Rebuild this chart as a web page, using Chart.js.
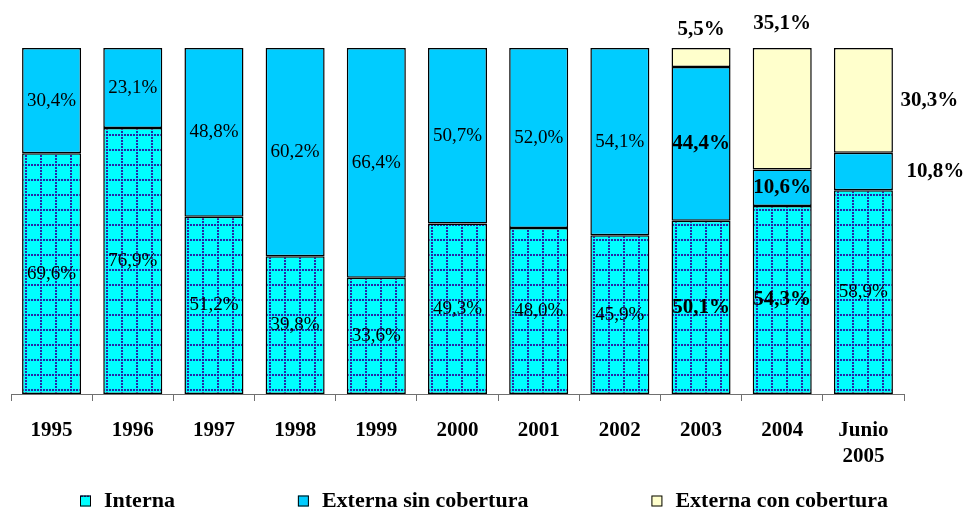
<!DOCTYPE html>
<html>
<head>
<meta charset="utf-8">
<title>Composición de la deuda</title>
<script src="https://cdn.jsdelivr.net/npm/chart.js@4/dist/chart.umd.min.js"></script>
<style>
  html, body { margin: 0; padding: 0; background: #ffffff; }
  #wrap { width: 966px; height: 511px; position: relative; }
</style>
</head>
<body>
<div id="wrap"><canvas id="c" width="966" height="511"></canvas></div>
<script>
// Categories (years) and the three shares of each bar, in percent
const years = ['1995', '1996', '1997', '1998', '1999', '2000', '2001', '2002', '2003', '2004', ['Junio', '2005']];
const interna = [69.6, 76.9, 51.2, 39.8, 33.6, 49.3, 48.0, 45.9, 50.1, 54.3, 58.9];
const externaSinCobertura = [30.4, 23.1, 48.8, 60.2, 66.4, 50.7, 52.0, 54.1, 44.4, 10.6, 10.8];
const externaConCobertura = [null, null, null, null, null, null, null, null, 5.5, 35.1, 30.3];
const seriesNames = ['Interna', 'Externa sin cobertura', 'Externa con cobertura'];

const SERIF = "'Liberation Serif', 'Times New Roman', serif";
const BAR_PCT = 0.727;

// Cyan tile with a dotted navy grid for the "Interna" segments
const gridTile = (() => {
  const t = document.createElement('canvas');
  t.width = 15; t.height = 15;
  const g = t.getContext('2d');
  g.fillStyle = '#00FFFF';
  g.fillRect(0, 0, 15, 15);
  g.fillStyle = '#2828A8';
  for (let i = 0; i < 15; i += 3) {
    g.fillRect(i, 0, 2, 2);
    g.fillRect(0, i, 2, 2);
  }
  return t;
})();
const baseCtx = document.getElementById('c').getContext('2d');
const legendPattern = baseCtx.createPattern(gridTile, 'repeat');

// Anchor the grid to each bar's left and bottom edges
function internaFill(c) {
  const pattern = baseCtx.createPattern(gridTile, 'repeat');
  const chart = c.chart;
  const xs = chart.scales && chart.scales.x;
  const ys = chart.scales && chart.scales.y;
  if (xs && ys && xs.width > 0 && typeof DOMMatrix !== 'undefined') {
    const barW = (xs.width / years.length) * BAR_PCT;
    const left = xs.getPixelForValue(c.dataIndex) - barW / 2;
    const bottom = ys.getPixelForValue(0);
    pattern.setTransform(new DOMMatrix().translate(Math.round(left + 3), Math.round(bottom - 5)));
  }
  return pattern;
}
const fills = [internaFill, '#00CCFF', '#FFFFCC'];
const legendFills = [legendPattern, '#00CCFF', '#FFFFCC'];

// Which labels are bold, and which sit outside their segment
function labelIsBold(ds, i) {
  if (ds === 2) return true;
  if (i === 8 || i === 9) return true;
  if (ds === 1 && i === 10) return true;
  return false;
}
const outsideLabels = {
  '2:8':  { mode: 'above', dy: -18 },
  '2:9':  { mode: 'above', dy: -24 },
  '2:10': { mode: 'right', dx: 66 },
  '1:10': { mode: 'right', dx: 72 }
};

const fmt = v => v.toFixed(1).replace('.', ',') + '%';

const valueLabels = {
  id: 'valueLabels',
  afterDatasetsDraw(chart) {
    const ctx = chart.ctx;
    ctx.save();
    ctx.fillStyle = '#000';
    ctx.textAlign = 'center';
    ctx.textBaseline = 'middle';
    chart.data.datasets.forEach((dataset, ds) => {
      const meta = chart.getDatasetMeta(ds);
      meta.data.forEach((bar, i) => {
        const v = dataset.data[i];
        if (v === null || v === undefined) return;
        const bold = labelIsBold(ds, i);
        ctx.font = (bold ? 'bold 21px ' : '19px ') + SERIF;
        let x = bar.x;
        let y = (bar.y + bar.base) / 2;
        const o = outsideLabels[ds + ':' + i];
        if (o && o.mode === 'above') { y = Math.min(bar.y, bar.base) + o.dy; }
        if (o && o.mode === 'right') { x = bar.x + o.dx; }
        ctx.fillText(fmt(v), x, y);
      });
    });
    ctx.restore();
  }
};

// Legend row along the bottom edge
const bottomLegend = {
  id: 'bottomLegend',
  afterDraw(chart) {
    const ctx = chart.ctx;
    ctx.save();
    ctx.font = 'bold 22px ' + SERIF;
    ctx.textBaseline = 'middle';
    ctx.textAlign = 'left';
    let x = 80;
    const y = 501;
    chart.data.datasets.forEach((dataset, ds) => {
      ctx.fillStyle = legendFills[ds];
      ctx.fillRect(x, y - 5.5, 11, 11);
      ctx.strokeStyle = '#000';
      ctx.lineWidth = 1;
      ctx.strokeRect(x + 0.5, y - 5, 10, 10);
      ctx.fillStyle = '#000';
      ctx.fillText(dataset.label, x + 24, y);
      x += 24 + ctx.measureText(dataset.label).width + 123;
    });
    ctx.restore();
  }
};

const datasets = [interna, externaSinCobertura, externaConCobertura].map((values, k) => ({
  label: seriesNames[k],
  data: values,
  backgroundColor: fills[k],
  borderColor: '#000000',
  borderWidth: 1.5,
  borderSkipped: false,
  barPercentage: BAR_PCT,
  categoryPercentage: 1.0
}));

new Chart(document.getElementById('c'), {
  type: 'bar',
  data: { labels: years, datasets },
  options: {
    responsive: false,
    animation: false,
    devicePixelRatio: 1,
    layout: { padding: { left: 11, right: 62, top: 48, bottom: 0 } },
    plugins: {
      legend: { display: false },
      tooltip: { enabled: false }
    },
    scales: {
      x: {
        stacked: true,
        grid: {
          offset: true,
          drawOnChartArea: false,
          drawTicks: true,
          tickLength: 7,
          color: '#707070',
          lineWidth: 1
        },
        border: { display: true, color: '#707070', width: 1 },
        ticks: {
          color: '#000',
          padding: 16,
          maxRotation: 0,
          autoSkip: false,
          font: { family: SERIF, size: 21, weight: 'bold', lineHeight: 1.25 }
        },
        afterFit(scale) { scale.height = 117; }
      },
      y: {
        stacked: true,
        display: false,
        min: 0,
        max: 100
      }
    }
  },
  plugins: [valueLabels, bottomLegend]
});
</script>
</body>
</html>
